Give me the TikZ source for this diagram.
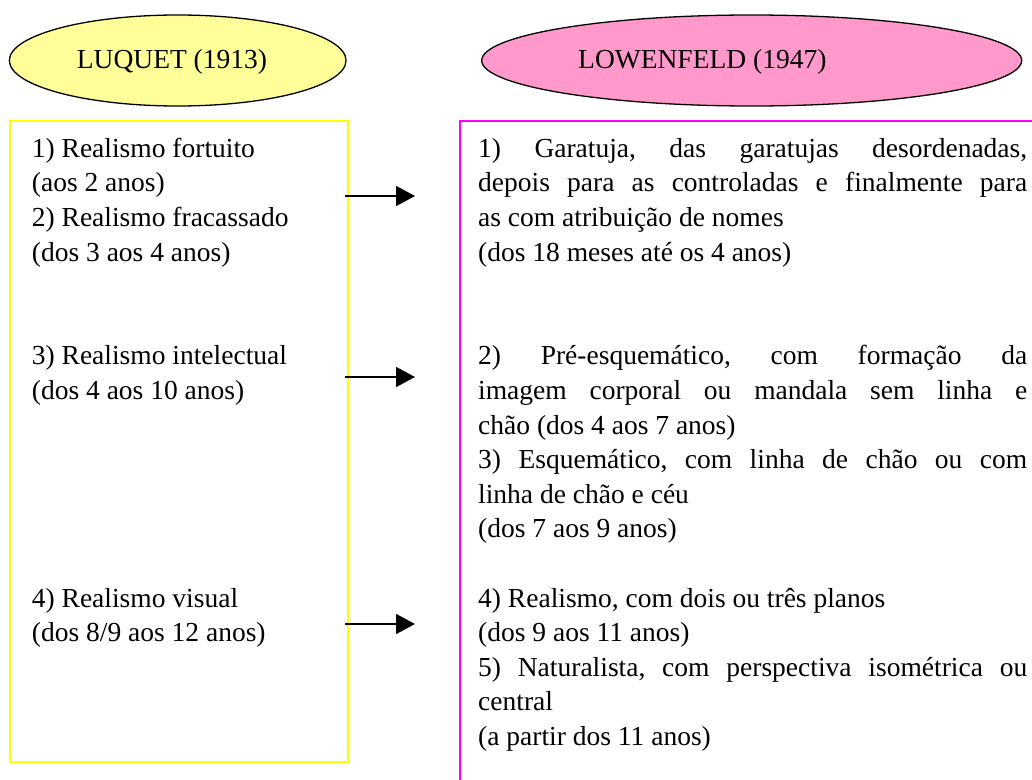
\documentclass[tikz,border=0pt]{standalone}
\usepackage{fontspec}
\setmainfont{Liberation Serif}
\usetikzlibrary{shapes.geometric,arrows.meta}
\definecolor{elyellow}{HTML}{FFFF99}
\definecolor{elpink}{HTML}{FF99CC}
\definecolor{boxyellow}{HTML}{FFFF00}
\definecolor{boxmagenta}{HTML}{FF00FF}
\begin{document}
\begin{tikzpicture}[x=1pt,y=-1pt,
  bodyfont/.style={font={\fontsize{27.5}{34.6}\selectfont\frenchspacing\hyphenpenalty=10000 \exhyphenpenalty=10000 }},
  oval/.style={ellipse,draw=black,line width=1.3pt,minimum height=91pt,inner sep=0pt},
  head/.style={anchor=base west,inner sep=0pt,bodyfont},
  lefttext/.style={anchor=base west,inner sep=0pt,text width=310pt,align=justify,bodyfont},
  righttext/.style={anchor=base west,inner sep=0pt,text width=549pt,align=justify,bodyfont},
  column/.style={draw,line width=2pt,inner sep=0pt},
  link/.style={line width=1.6pt,-{Triangle[length=19pt,width=20pt]}}]
\useasboundingbox (0,0) rectangle (1032,779);
\clip (0,0) rectangle (1032,779);
% headings
\node[oval,fill=elyellow,minimum width=336.7pt] (e1) at (177.7,60.5) {};
\node[oval,fill=elpink,minimum width=540pt] (e2) at (751.7,60.5) {};
\node[head] (t1) at (76.7,68.3) {LUQUET (1913)};
\node[head] (t2) at (578,68.3) {LOWENFELD (1947)};
% columns
\node[column,draw=boxyellow,minimum width=338pt,minimum height=641pt] (lbox) at (179,441.2) {};
\node[column,draw=boxmagenta,minimum width=590pt,minimum height=680pt] (rbox) at (755,460.7) {};
% left texts
\node[lefttext] (l1) at (31.7,157.3) {1) Realismo fortuito\par (aos 2 anos)\par 2) Realismo fracassado\par (dos 3 aos 4 anos)};
\node[lefttext] (l2) at (31.7,364.9) {3) Realismo intelectual\par (dos 4 aos 10 anos)};
\node[lefttext] (l3) at (31.7,607.1) {4) Realismo visual\par (dos 8/9 aos 12 anos)};
% right texts
\node[righttext] (r1) at (478,157.3) {1) Garatuja, das garatujas desordenadas,\linebreak depois para as controladas e finalmente para\linebreak as com atribuição de nomes\par (dos 18 meses até os 4 anos)};
\node[righttext] (r2) at (478,364.9) {2) Pré-esquemático, com formação da\linebreak imagem corporal ou mandala sem linha e\linebreak chão (dos 4 aos 7 anos)\par 3) Esquemático, com linha de chão ou com\linebreak linha de chão e céu\par (dos 7 aos 9 anos)};
\node[righttext] (r3) at (478,607.1) {4) Realismo, com dois ou três planos\par (dos 9 aos 11 anos)\par 5) Naturalista, com perspectiva isométrica ou\linebreak central\par (a partir dos 11 anos)};
% arrows
\coordinate (a1s) at (345,196);
\coordinate (a1e) at (415,196);
\coordinate (a2s) at (345,377);
\coordinate (a2e) at (415,377);
\coordinate (a3s) at (345,624);
\coordinate (a3e) at (415,624);
\draw[link] (a1s) -- (a1e);
\draw[link] (a2s) -- (a2e);
\draw[link] (a3s) -- (a3e);
\end{tikzpicture}
\end{document}
